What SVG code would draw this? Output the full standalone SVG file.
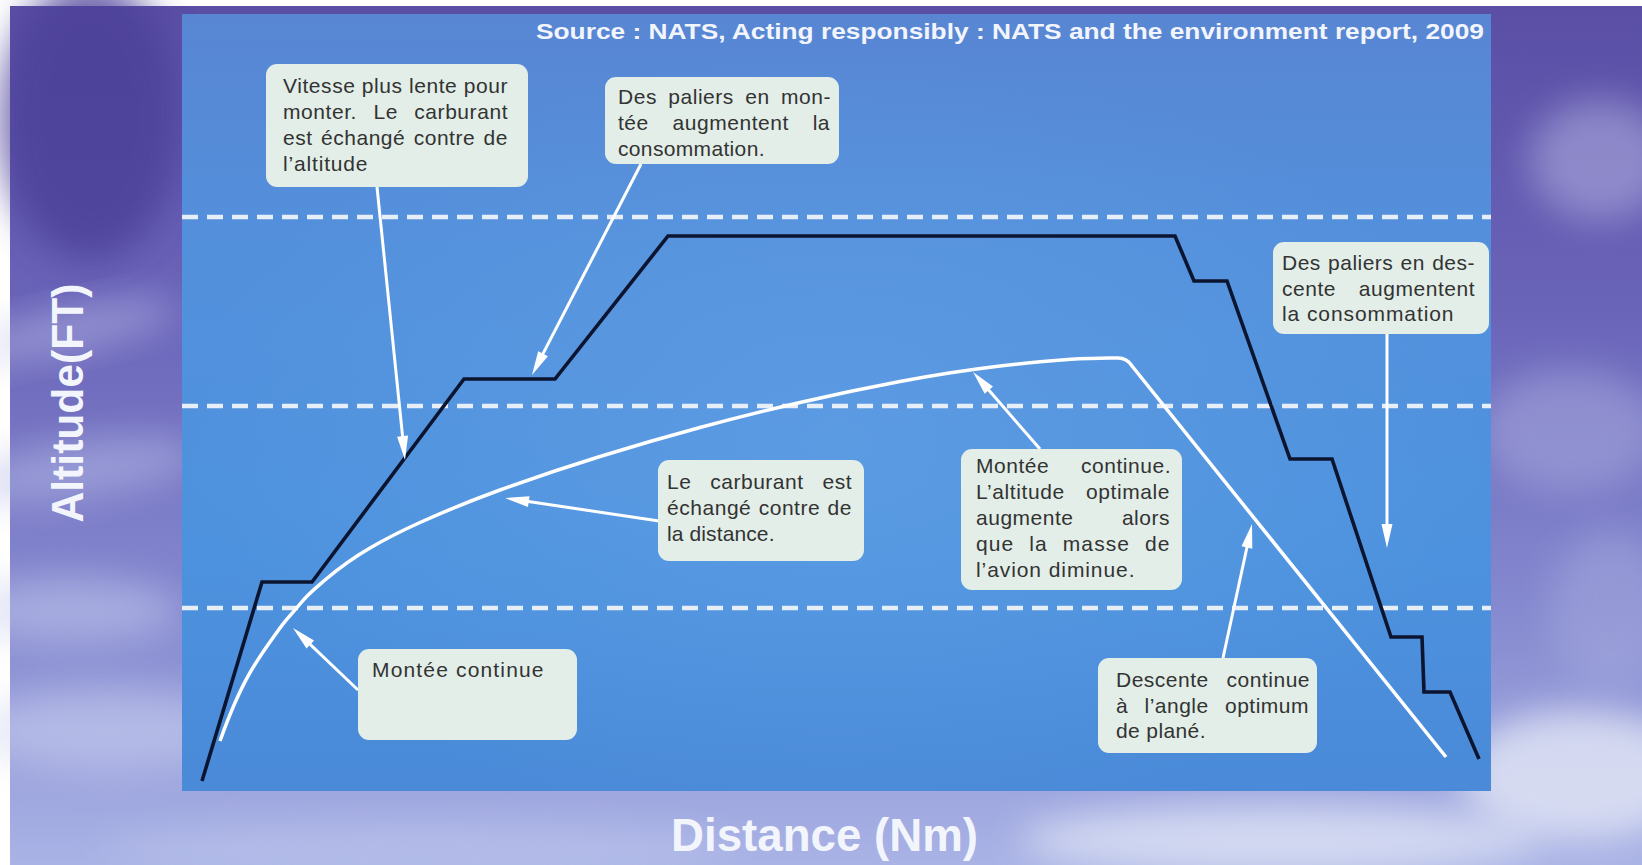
<svg xmlns="http://www.w3.org/2000/svg" width="1642" height="865" viewBox="0 0 1642 865">
<defs>
<style>
.box{fill:#e2eee7;}
.t{font-family:"Liberation Sans",Arial,sans-serif;font-size:21px;letter-spacing:0.5px;fill:#333333;}
.lbl{font-family:"Liberation Sans",Arial,sans-serif;font-weight:bold;fill:#f3f5fc;}
.dash{stroke:#e6eefa;stroke-width:4.5;stroke-dasharray:16 9;fill:none;}
.arrow{stroke:#ffffff;stroke-width:3;fill:none;marker-end:url(#ah);}
.cloud{filter:url(#blur);}
</style>
<marker id="ah" markerUnits="userSpaceOnUse" markerWidth="24" markerHeight="11" refX="14" refY="5.5" orient="auto" overflow="visible">
<path d="M0,0 L24,5.5 L0,11 Z" fill="#ffffff"/>
</marker>
<linearGradient id="sky" x1="0" y1="0" x2="0" y2="1">
<stop offset="0" stop-color="#5a4ea5"/>
<stop offset="0.35" stop-color="#6a64b9"/>
<stop offset="0.7" stop-color="#8589cf"/>
<stop offset="1" stop-color="#a9b3e5"/>
</linearGradient>
<linearGradient id="panel" x1="0" y1="0" x2="0" y2="1">
<stop offset="0" stop-color="#5886d3"/>
<stop offset="0.3" stop-color="#5390dc"/>
<stop offset="0.7" stop-color="#4d92de"/>
<stop offset="1" stop-color="#4a8ad8"/>
</linearGradient>
<radialGradient id="glow" cx="0.5" cy="0.55" r="0.5">
<stop offset="0" stop-color="#6eaaea" stop-opacity="0.4"/>
<stop offset="1" stop-color="#6eaaea" stop-opacity="0"/>
</radialGradient>
<filter id="blur" x="-50%" y="-50%" width="200%" height="200%">
<feGaussianBlur stdDeviation="18"/>
</filter>
</defs>

<g id="background">
<rect x="0" y="0" width="1642" height="865" fill="#ffffff"/>
<rect x="10" y="6" width="1632" height="859" fill="url(#sky)"/>
<ellipse class="cloud" cx="90" cy="120" rx="90" ry="140" fill="#4c3f98" opacity="0.8"/>
<ellipse class="cloud" cx="70" cy="330" rx="110" ry="22" fill="#c4c6ec" opacity="0.45" transform="rotate(-12 70 330)"/>
<ellipse class="cloud" cx="80" cy="470" rx="120" ry="28" fill="#b9bde8" opacity="0.5" transform="rotate(-8 80 470)"/>
<ellipse class="cloud" cx="70" cy="610" rx="110" ry="32" fill="#c8cdef" opacity="0.5"/>
<ellipse class="cloud" cx="110" cy="730" rx="140" ry="40" fill="#d0d6f2" opacity="0.5"/>
<ellipse class="cloud" cx="420" cy="850" rx="320" ry="24" fill="#c5cdef" opacity="0.45"/>
<ellipse class="cloud" cx="1280" cy="840" rx="260" ry="34" fill="#e6ebf8" opacity="0.7"/>
<ellipse class="cloud" cx="1580" cy="775" rx="120" ry="65" fill="#e8ecf8" opacity="0.75"/>
<ellipse class="cloud" cx="1600" cy="160" rx="70" ry="60" fill="#c2c4ea" opacity="0.45"/>
<ellipse class="cloud" cx="1570" cy="430" rx="90" ry="60" fill="#b8bce6" opacity="0.4"/>
<ellipse class="cloud" cx="1610" cy="610" rx="60" ry="80" fill="#a9afe0" opacity="0.45"/>
<rect x="182" y="14" width="1309" height="777" fill="url(#panel)"/>
<rect x="182" y="14" width="1309" height="777" fill="url(#glow)"/>
</g>

<g id="title">
<text class="lbl" x="536" y="39" font-size="22" textLength="948" lengthAdjust="spacingAndGlyphs">Source : NATS, Acting responsibly : NATS and the environment report, 2009</text>
</g>

<g id="axis-y">
<text class="lbl" font-size="44" text-anchor="middle" transform="translate(83,403) rotate(-90)" textLength="239" lengthAdjust="spacingAndGlyphs">Altitude(FT)</text>
</g>
<g id="axis-x">
<text class="lbl" x="671" y="851" font-size="47" textLength="307" lengthAdjust="spacingAndGlyphs">Distance (Nm)</text>
</g>

<g id="gridlines">
<line class="dash" x1="182" y1="217" x2="1491" y2="217"/>
<line class="dash" x1="182" y1="406" x2="1491" y2="406"/>
<line class="dash" x1="182" y1="608" x2="1491" y2="608"/>
</g>

<g id="profile-stepped">
<path d="M202,781 L262,582 L312,582 L464,379 L555,379 L668,236 L1175,236 L1194,281 L1227,281 L1290,459 L1332,459 L1391,637 L1422,637 L1424,692 L1450,692 L1479,759" fill="none" stroke="#0c1530" stroke-width="3.6" stroke-linejoin="miter"/>
</g>

<g id="profile-continuous">
<path d="M220,741 C230,713 240,690.2 250,672.7 C260,655.2 270,642 280,628 C286.7,618.7 293.3,612.3 300,604 C308.3,593.6 316.7,587.1 325,580 C340,567.25 355,556.7 370,548 C386.7,538.3 403.3,530 420,522.5 C446.7,510.5 473.3,499.7 500,490 C533.3,478 566.7,466.8 600,456.5 C633.3,446.2 666.7,436.5 700,427.5 C733.3,418.5 766.7,410.2 800,402.5 C833.3,394.8 866.7,387.8 900,381.5 C933.3,375.2 966.7,370 1000,366 C1036.7,361.6 1073.3,358 1110,358 L1118,358 Q1127,358 1132,366 L1446,757" fill="none" stroke="#ffffff" stroke-width="3.5" stroke-linejoin="round"/>
</g>

<g id="connectors">
<line class="arrow" x1="377" y1="187" x2="404" y2="450.1"/>
<line class="arrow" x1="641" y1="164" x2="536.6" y2="366.1"/>
<line class="arrow" x1="1387" y1="334" x2="1387" y2="538"/>
<line class="arrow" x1="659" y1="521" x2="514.9" y2="499.5"/>
<line class="arrow" x1="1040" y1="449" x2="979.6" y2="379.6"/>
<line class="arrow" x1="358" y1="690" x2="300.2" y2="634.9"/>
<line class="arrow" x1="1223" y1="658" x2="1249.9" y2="533.8"/>
</g>

<g id="node-vitesse">
<rect class="box" x="266" y="64" width="262" height="123" rx="11"/>
<text class="t" x="283" y="93" textLength="225" lengthAdjust="spacing">Vitesse plus lente pour</text>
<text class="t" x="283" y="119" word-spacing="10" textLength="225" lengthAdjust="spacing">monter. Le carburant</text>
<text class="t" x="283" y="145" word-spacing="2" textLength="225" lengthAdjust="spacing">est échangé contre de</text>
<text class="t" x="283" y="171" textLength="85" lengthAdjust="spacing">l’altitude</text>
</g>

<g id="node-paliers-montee">
<rect class="box" x="605" y="77" width="234" height="87" rx="11"/>
<text class="t" x="618" y="104" word-spacing="5" textLength="213" lengthAdjust="spacing">Des paliers en mon-</text>
<text class="t" x="618" y="130" word-spacing="17.5" textLength="212" lengthAdjust="spacing">tée augmentent la</text>
<text class="t" x="618" y="156" textLength="147" lengthAdjust="spacing">consommation.</text>
</g>

<g id="node-paliers-descente">
<rect class="box" x="1273" y="242" width="216" height="92" rx="11"/>
<text class="t" x="1282" y="270" word-spacing="1" textLength="193" lengthAdjust="spacing">Des paliers en des-</text>
<text class="t" x="1282" y="296" word-spacing="16.5" textLength="193" lengthAdjust="spacing">cente augmentent</text>
<text class="t" x="1282" y="321" textLength="172" lengthAdjust="spacing">la consommation</text>
</g>

<g id="node-carburant-distance">
<rect class="box" x="658" y="460" width="206" height="101" rx="11"/>
<text class="t" x="667" y="489" word-spacing="12.5" textLength="185" lengthAdjust="spacing">Le carburant est</text>
<text class="t" x="667" y="515" word-spacing="1" textLength="185" lengthAdjust="spacing">échangé contre de</text>
<text class="t" x="667" y="541" textLength="108" lengthAdjust="spacing">la distance.</text>
</g>

<g id="node-montee-optimale">
<rect class="box" x="961" y="449" width="221" height="141" rx="11"/>
<text class="t" x="976" y="473" word-spacing="25.5" textLength="195" lengthAdjust="spacing">Montée continue.</text>
<text class="t" x="976" y="499" word-spacing="15" textLength="194" lengthAdjust="spacing">L’altitude optimale</text>
<text class="t" x="976" y="525" word-spacing="42" textLength="194" lengthAdjust="spacing">augmente alors</text>
<text class="t" x="976" y="551" word-spacing="8" textLength="194" lengthAdjust="spacing">que la masse de</text>
<text class="t" x="976" y="577" textLength="159" lengthAdjust="spacing">l’avion diminue.</text>
</g>

<g id="node-montee-continue">
<rect class="box" x="358" y="649" width="219" height="91" rx="11"/>
<text class="t" x="372" y="677" textLength="172" lengthAdjust="spacing">Montée continue</text>
</g>

<g id="node-descente-continue">
<rect class="box" x="1098" y="658" width="219" height="95" rx="11"/>
<text class="t" x="1116" y="687" word-spacing="11.5" textLength="194" lengthAdjust="spacing">Descente continue</text>
<text class="t" x="1116" y="713" word-spacing="10" textLength="193" lengthAdjust="spacing">à l’angle optimum</text>
<text class="t" x="1116" y="738" textLength="90" lengthAdjust="spacing">de plané.</text>
</g>
</svg>
